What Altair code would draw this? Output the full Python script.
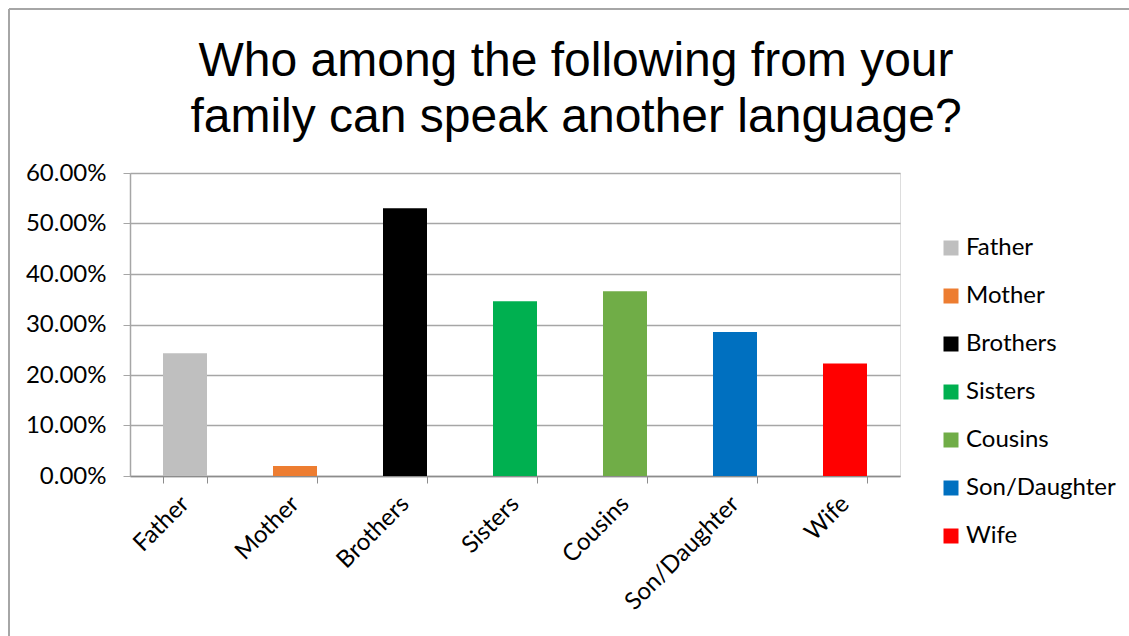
import altair as alt
import pandas as pd

categories = ["Father", "Mother", "Brothers", "Sisters", "Cousins", "Son/Daughter", "Wife"]
values = [0.243, 0.020, 0.530, 0.346, 0.366, 0.285, 0.223]
colors = ["#bfbfbf", "#ed7d31", "#000000", "#00b050", "#70ad47", "#0070c0", "#ff0000"]
y_ticks = [0.0, 0.1, 0.2, 0.3, 0.4, 0.5, 0.6]
title_lines = ["Who among the following from your", "family can speak another language?"]

df = pd.DataFrame({"category": categories, "value": values})

FONT = "Lato"

bars = alt.Chart(df).mark_bar().encode(
    x=alt.X(
        "category:N",
        sort=categories,
        scale=alt.Scale(paddingInner=0.6, paddingOuter=0.3),
        axis=alt.Axis(
            title=None,
            labelAngle=-45,
            labelAlign="right",
            labelBaseline="middle",
            labelFont=FONT,
            labelFontSize=24,
            labelColor="#000000",
            labelPadding=17,
            tickBand="extent",
            tickSize=7,
            tickColor="#8c8c8c",
            domainColor="#8c8c8c",
            domainWidth=1.5,
            grid=False,
        ),
    ),
    y=alt.Y(
        "value:Q",
        scale=alt.Scale(domain=[0, 0.6], nice=False),
        axis=alt.Axis(
            title=None,
            values=y_ticks,
            format=".2%",
            labelFont=FONT,
            labelFontSize=24,
            labelColor="#000000",
            labelPadding=17,
            tickSize=7,
            tickColor="#a6a6a6",
            domainColor="#a6a6a6",
            domainWidth=1.5,
            gridColor="#a6a6a6",
            gridWidth=1.5,
        ),
    ),
    color=alt.Color(
        "category:N",
        sort=categories,
        scale=alt.Scale(domain=categories, range=colors),
        legend=alt.Legend(
            title=None,
            orient="none",
            legendX=809,
            legendY=63,
            symbolType="square",
            symbolSize=225,
            symbolStrokeWidth=0,
            labelFont=FONT,
            labelFontSize=24,
            labelColor="#000000",
            labelOffset=3,
            rowPadding=24,
        ),
    ),
)

frame_df = pd.DataFrame({"a": [0]})
top_line = alt.Chart(frame_df).mark_rule(color="#a6a6a6", strokeWidth=2).encode(
    x=alt.value(-121), x2=alt.value(999), y=alt.value(-164)
)
left_line = alt.Chart(frame_df).mark_rule(color="#a6a6a6", strokeWidth=2).encode(
    x=alt.value(-121), y=alt.value(-164), y2=alt.value(463)
)

title_1 = alt.Chart(pd.DataFrame({"t": [title_lines[0]]})).mark_text(
    font="Liberation Sans", fontSize=48, color="#000000", align="center", baseline="middle"
).encode(text="t:N", x=alt.value(446), y=alt.value(-111))
title_2 = alt.Chart(pd.DataFrame({"t": [title_lines[1]]})).mark_text(
    font="Liberation Sans", fontSize=48, color="#000000", align="center", baseline="middle"
).encode(text="t:N", x=alt.value(446), y=alt.value(-55))

chart = alt.layer(bars, top_line, left_line, title_1, title_2).properties(
    width=770,
    height=303,
    autosize=alt.AutoSizeParams(type="none"),
    padding={"left": 130, "top": 173, "right": 229, "bottom": 160},
).configure_view(stroke=None).configure(background="#ffffff")

chart.save("out.html", embed_options={"renderer": "svg", "actions": False})
